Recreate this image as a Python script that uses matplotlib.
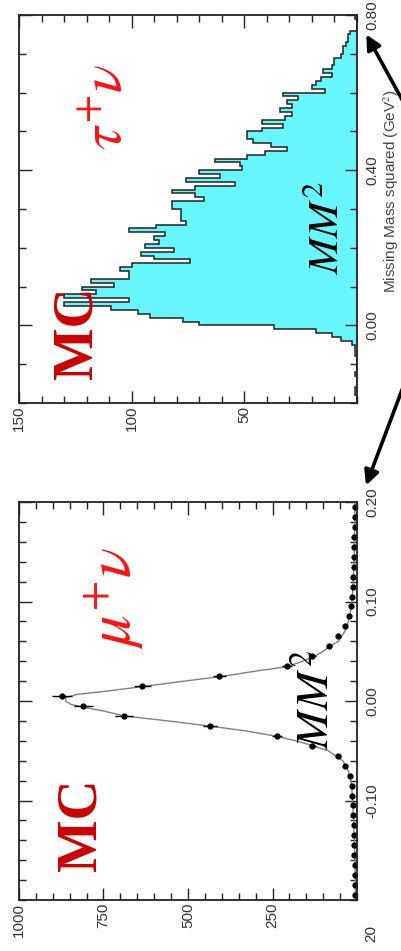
import numpy as np
import matplotlib.pyplot as plt
from matplotlib.ticker import MultipleLocator, FixedLocator, FormatStrFormatter

plt.rcParams['font.family'] = ['Liberation Sans', 'DejaVu Sans']
plt.rcParams['mathtext.fontset'] = 'stix'

# tau nu Monte Carlo: missing mass squared histogram, 0.01 GeV^2 bins from -0.20 to 0.80
tau_edges = np.round(np.arange(-0.20, 0.8001, 0.01), 3)
tau_counts = [0, 0, 1, 1, 0, 0, 0, 1, 0, 0,
              0, 0, 1, 1, 1, 2, 7, 11, 18, 37,
              70, 77, 92, 97, 109, 130, 101, 130, 116, 122,
              108, 118, 101, 101, 105, 100, 74, 90, 96, 81,
              94, 88, 90, 85, 101, 89, 76, 78, 78, 78,
              82, 82, 68, 72, 82, 72, 54, 76, 61, 70,
              51, 52, 63, 49, 41, 31, 38, 46, 49, 49,
              42, 33, 42, 32, 29, 34, 29, 31, 26, 33,
              14, 20, 18, 16, 11, 15, 11, 10, 10, 7,
              6, 6, 5, 4, 4, 3, 0, 0, 0, 1]

# mu nu Monte Carlo: binned points and fitted line
mu_mass = np.round(np.arange(-0.195, 0.196, 0.01), 3)
mu_counts = np.array([5, 5, 6, 7, 8, 8, 9, 10, 11, 12,
                      14, 16, 21, 35, 55, 132, 237, 434, 689, 810,
                      874, 636, 407, 207, 132, 83, 56, 36, 25, 19,
                      15, 13, 11, 10, 9, 8, 8, 7, 6, 6])
fit_mass = [-0.20, -0.15, -0.12, -0.10, -0.09, -0.08, -0.07, -0.06, -0.05, -0.045,
            -0.04, -0.035, -0.03, -0.025, -0.02, -0.015, -0.010, -0.0067, -0.0034, 0.0,
            0.0034, 0.0067, 0.010, 0.0144, 0.02, 0.0244, 0.03, 0.0345, 0.04, 0.045,
            0.05, 0.055, 0.06, 0.07, 0.08, 0.09, 0.10, 0.12, 0.15, 0.20]
fit_counts = [4, 7, 10, 13, 15, 18, 26, 42, 85, 130,
              180, 245, 330, 440, 560, 690, 750, 803, 847, 862,
              862, 827, 739, 636, 510, 407, 300, 207, 160, 125,
              100, 80, 55, 36, 25, 19, 15, 11, 8, 6]

cyan = '#66f6fb'
tick_col = '#333333'

fig = plt.figure(figsize=(4.01, 9.51), dpi=100)
ax1 = fig.add_axes([19 / 401, 1 - 403 / 951, 338 / 401, 388 / 951])
ax2 = fig.add_axes([19 / 401, 1 - 900 / 951, 338 / 401, 398 / 951])

# --- tau nu histogram (counts run right to left, mass bottom to top) ---
ax1.stairs(tau_counts, tau_edges, orientation='horizontal', fill=True,
           color=cyan, baseline=0)
ax1.stairs(tau_counts, tau_edges, orientation='horizontal', fill=False,
           color='#222222', lw=1.1, baseline=0)
ax1.set_xlim(150, 0)
ax1.set_ylim(-0.2, 0.8)
ax1.xaxis.set_major_locator(FixedLocator([50, 100, 150]))
ax1.xaxis.set_minor_locator(MultipleLocator(10))
ax1.yaxis.set_major_locator(FixedLocator([0.0, 0.4, 0.8]))
ax1.yaxis.set_minor_locator(MultipleLocator(0.1))
ax1.yaxis.set_major_formatter(FormatStrFormatter('%.2f'))

# --- mu nu points with fit ---
ax2.plot(fit_counts, fit_mass, color='#808080', lw=1.0)
ax2.errorbar(mu_counts, mu_mass, xerr=np.sqrt(mu_counts), fmt='o', ms=3.5,
             color='black', ecolor='black', elinewidth=1.0, capsize=0)
ax2.set_xlim(1000, 0)
ax2.set_ylim(-0.2, 0.2)
ax2.xaxis.set_major_locator(FixedLocator([250, 500, 750, 1000]))
ax2.xaxis.set_minor_locator(MultipleLocator(50))
ax2.yaxis.set_major_locator(FixedLocator([-0.1, 0.0, 0.1, 0.2]))
ax2.yaxis.set_minor_locator(MultipleLocator(0.02))
ax2.yaxis.set_major_formatter(FormatStrFormatter('%.2f'))

for ax in (ax1, ax2):
    for sp in ax.spines.values():
        sp.set_linewidth(1.3)
        sp.set_color('#222222')
    ax.tick_params(which='both', direction='in', top=True, bottom=True,
                   left=True, right=True, labelleft=False, labelright=True,
                   color='#222222', width=1.0)
    ax.tick_params(which='major', length=9)
    ax.tick_params(which='minor', length=5)
    ax.tick_params(axis='x', labelsize=11, labelcolor=tick_col, pad=2, labelrotation=90)
    ax.tick_params(axis='y', labelsize=11, labelcolor=tick_col, pad=6, labelrotation=90)
    for lab in ax.get_yticklabels():
        lab.set_va('center')

# labels inside the panels
serif = ['Liberation Serif', 'DejaVu Serif']
ax1.text(124, -0.019, 'MC', rotation=90, ha='center', va='center', fontsize=40,
         fontweight='bold', family=serif, color='#cc0000')
ax1.text(111, 0.565, r'$\tau^{+}\nu$', rotation=90, ha='center', va='center',
         fontsize=42, color='#ff1010')
ax1.text(12.9, 0.252, r'$MM^{2}$', rotation=90, ha='center', va='center',
         fontsize=31, color='black')

ax2.text(815, -0.124, 'MC', rotation=90, ha='center', va='center', fontsize=40,
         fontweight='bold', family=serif, color='#cc0000')
ax2.text(718, 0.1035, r'$\mu^{+}\nu$', rotation=90, ha='center', va='center',
         fontsize=45, color='#ff1010')
ax2.text(118, 0.002, r'$MM^{2}$', rotation=90, ha='center', va='center',
         fontsize=33, color='black')

fig.text(391 / 401, 1 - 191 / 951, r'Missing Mass squared (GeV$^{2}$)', rotation=90,
         ha='center', va='center', fontsize=11, color='#444444')
fig.text(371 / 401, 1 - 933 / 951, '20', rotation=90,
         ha='center', va='center', fontsize=11, color=tick_col)

# arrows coming in from the right edge
arrow = dict(arrowstyle='-|>', lw=2.6, color='black', mutation_scale=22)
ax1.annotate('', xy=(365, 951 - 32), xycoords='figure pixels',
             xytext=(405, 951 - 105), textcoords='figure pixels',
             arrowprops=arrow, annotation_clip=False)
ax1.annotate('', xy=(365, 951 - 488), xycoords='figure pixels',
             xytext=(405, 951 - 382), textcoords='figure pixels',
             arrowprops=arrow, annotation_clip=False)

fig.savefig('out.png', dpi=100)
